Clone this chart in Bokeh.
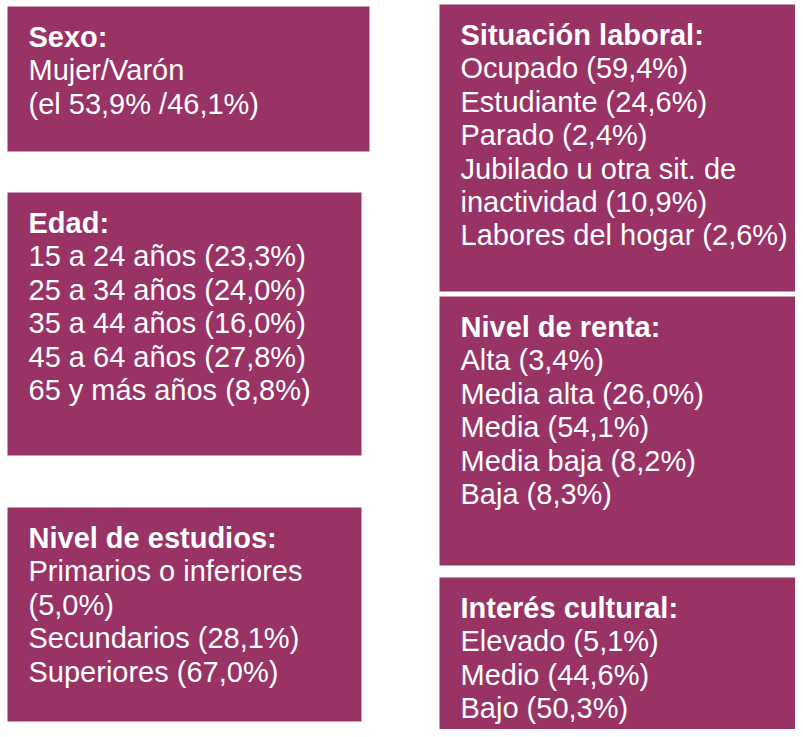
from bokeh.plotting import figure
from bokeh.models import Range1d
from bokeh.core.properties import value
from bokeh.embed import file_html
from bokeh.resources import INLINE

# ---- data ----
titles = ["Sexo:", "Edad:", "Nivel de estudios:", "Situación laboral:",
          "Nivel de renta:", "Interés cultural:"]

sexo_labels = ["Mujer/Varón"]
sexo_values = [53.9, 46.1]

edad_labels = ["15 a 24 años", "25 a 34 años", "35 a 44 años", "45 a 64 años", "65 y más años"]
edad_values = [23.3, 24.0, 16.0, 27.8, 8.8]

estudios_labels = ["Primarios o inferiores\n", "Secundarios", "Superiores"]
estudios_values = [5.0, 28.1, 67.0]

laboral_labels = ["Ocupado", "Estudiante", "Parado", "Jubilado u otra sit. de\ninactividad",
                  "Labores del hogar"]
laboral_values = [59.4, 24.6, 2.4, 10.9, 2.6]

renta_labels = ["Alta", "Media alta", "Media", "Media baja", "Baja"]
renta_values = [3.4, 26.0, 54.1, 8.2, 8.3]

interes_labels = ["Elevado", "Medio", "Bajo"]
interes_values = [5.1, 44.6, 50.3]

# ---- layout (pixel coordinates of each box: left, right, top, bottom) ----
boxes = [
    (7, 369, 6, 151),
    (7, 361, 192, 455),
    (7, 361, 507, 721),
    (439, 803, 4, 291),
    (439, 803, 296, 565),
    (439, 803, 577, 736),
]
FILL = "#993366"
FONT = "Liberation Sans"
SIZE = "29px"
LINE = 33.4


def fmt(v):
    return f"{v:.1f}".replace(".", ",") + "%"


def item_lines(labels, values):
    out = []
    for lab, v in zip(labels, values):
        txt = f"{lab} ({fmt(v)})"
        txt = txt.replace("\n ", "\n")
        out.extend(txt.split("\n"))
    return out


sexo_lines = [sexo_labels[0], f"(el {fmt(sexo_values[0])} /{fmt(sexo_values[1])})"]
contents = [
    sexo_lines,
    item_lines(edad_labels, edad_values),
    item_lines(estudios_labels, estudios_values),
    item_lines(laboral_labels, laboral_values),
    item_lines(renta_labels, renta_values),
    item_lines(interes_labels, interes_values),
]

p = figure(width=795, height=729, output_backend="svg", toolbar_location=None,
           x_range=Range1d(0, 795), y_range=Range1d(729, 0),
           min_border=0, min_border_left=0, min_border_right=0,
           min_border_top=0, min_border_bottom=0)
p.axis.visible = False
p.grid.visible = False
p.outline_line_color = None
p.background_fill_color = "white"
p.border_fill_color = "white"

L = [b[0] for b in boxes]
R = [b[1] for b in boxes]
T = [b[2] for b in boxes]
B = [b[3] for b in boxes]
p.quad(left=L, right=R, top=T, bottom=B, fill_color=FILL, line_color=None)

tx, ty, tt = [], [], []
ix, iy, it = [], [], []
for (l, r, t, b), title, lines in zip(boxes, titles, contents):
    x0 = l + 21
    y0 = t + 30.5
    tx.append(x0); ty.append(y0); tt.append(title)
    for k, s in enumerate(lines):
        ix.append(x0); iy.append(y0 + LINE * (k + 1)); it.append(s)

p.text(x=tx, y=ty, text=tt, text_color="white", text_font=value(FONT),
       text_font_size=SIZE, text_font_style="bold", text_baseline="alphabetic")
p.text(x=ix, y=iy, text=it, text_color="white", text_font=value(FONT),
       text_font_size=SIZE, text_baseline="alphabetic")

open("out.html", "w").write(file_html(p, INLINE))
